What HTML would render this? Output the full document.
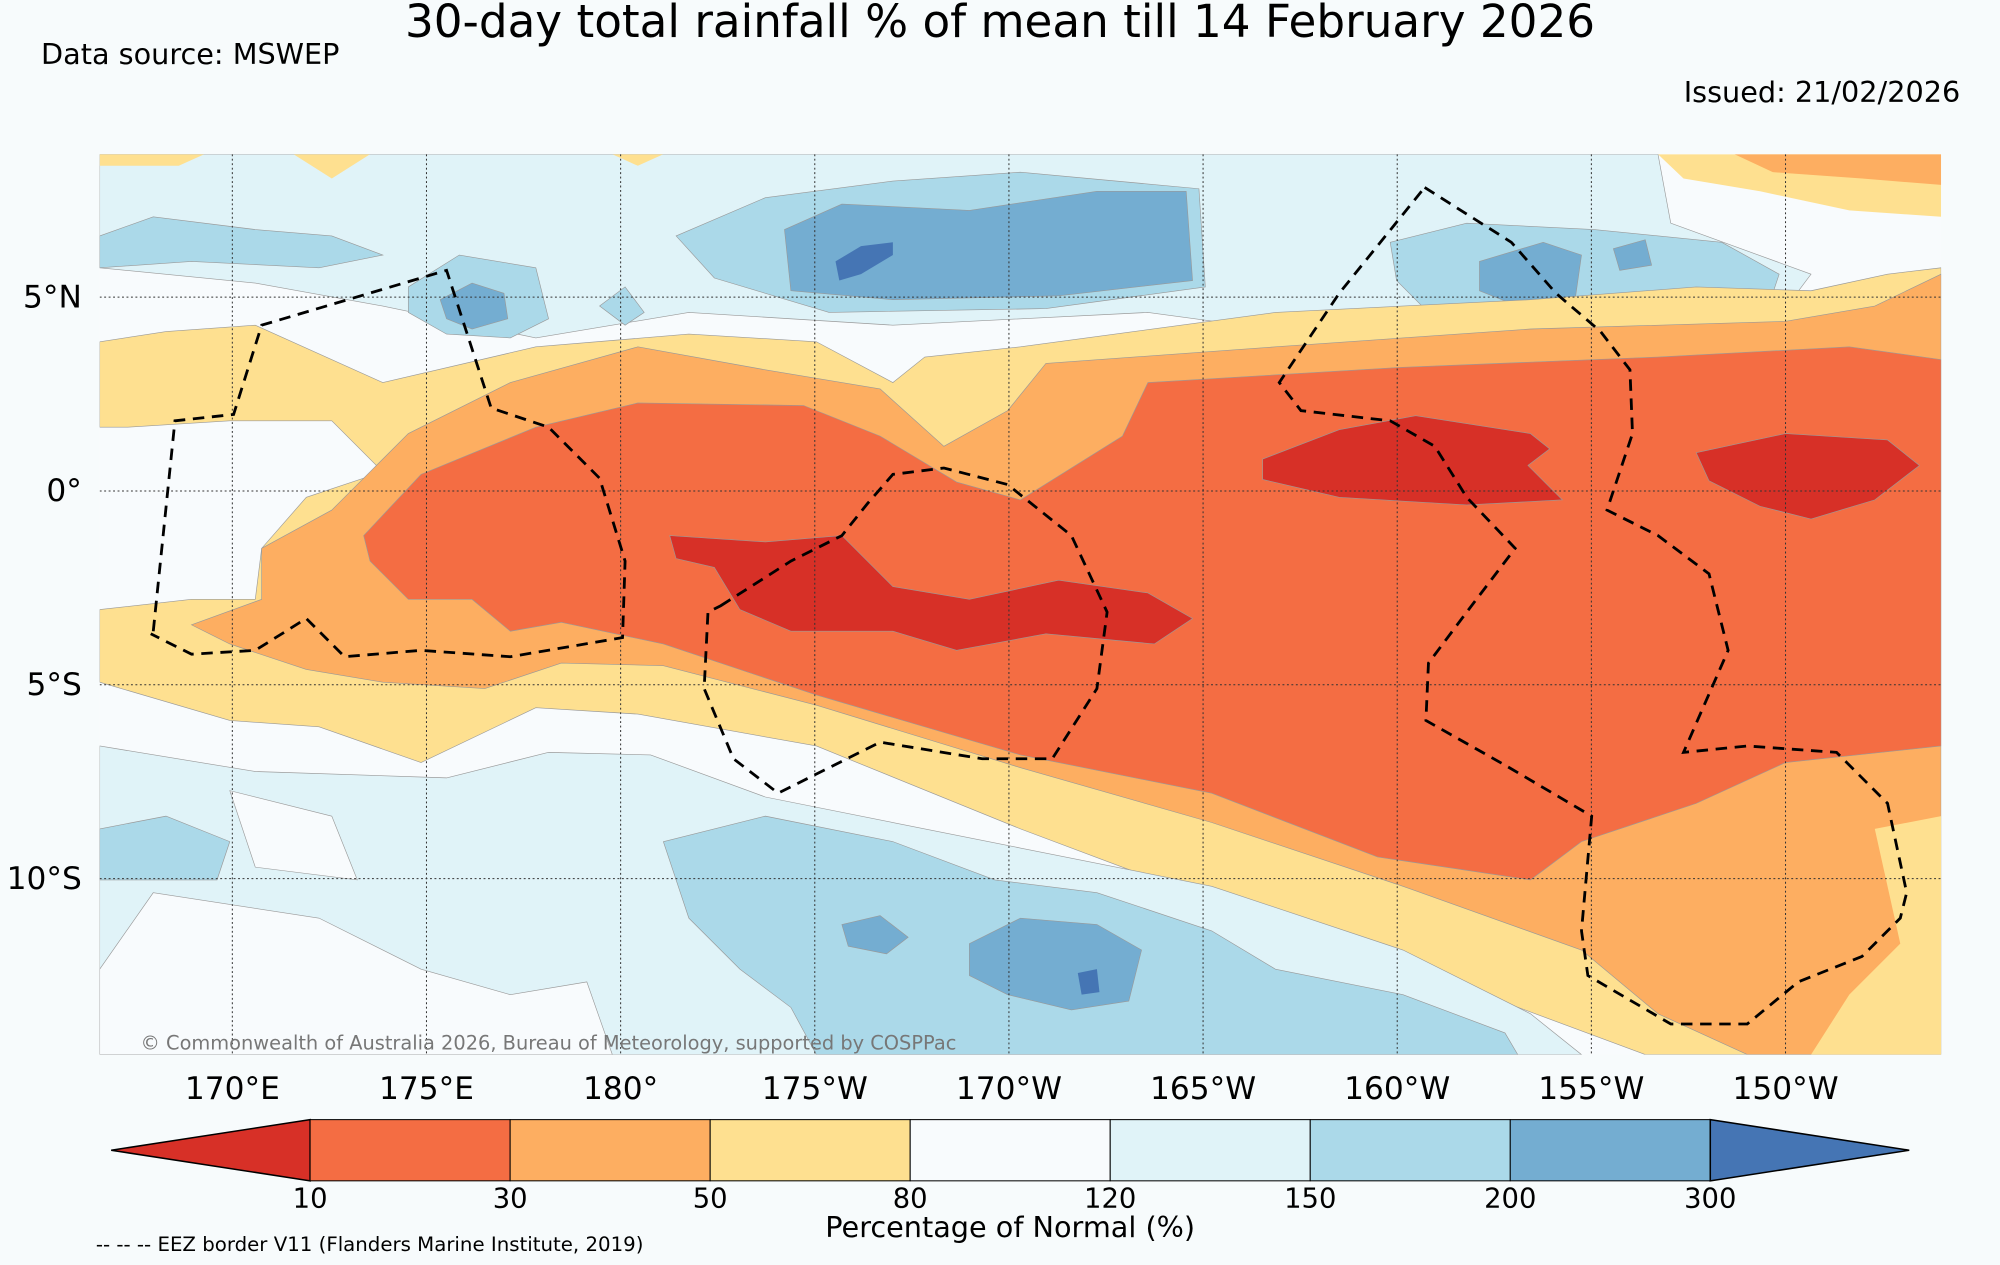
<!DOCTYPE html>
<html><head><meta charset="utf-8"><style>
html,body{margin:0;padding:0;background:#f7fbfc;}
svg{display:block;font-family:"DejaVu Sans","Liberation Sans",sans-serif;}
</style></head><body>
<svg id="chart" width="2000" height="1265" viewBox="0 0 1568 992" xmlns="http://www.w3.org/2000/svg">
<rect x="0" y="0" width="1568" height="992" fill="#f7fbfc"/>
<text x="784" y="29" font-size="35.5" text-anchor="middle">30-day total rainfall % of mean till 14 February 2026</text>
<text x="32" y="50" font-size="22.5">Data source: MSWEP</text>
<text x="1537" y="80" font-size="22.5" text-anchor="end">Issued: 21/02/2026</text>
<defs><clipPath id="mapclip"><rect x="78" y="121" width="1444" height="706"/></clipPath></defs>
<g id="map" clip-path="url(#mapclip)">
<rect x="78" y="121" width="1444" height="706" fill="#f8fbfd"/>
<path fill="#e0f3f8" stroke="#999" stroke-width="0.5" d="M78,121 L1300,121 L1310,175 L1420,215 L1390,255 L1250,270 L1100,272 L900,245 L700,255 L540,245 L420,265 L300,240 L200,222 L78,210 Z"/>
<path fill="#fee090" d="M78,121 L160,121 L140,130 L78,130 Z M230,121 L290,121 L260,140 Z M480,121 L520,121 L500,130 Z"/>
<path fill="#abd9e9" stroke="#999" stroke-width="0.5" d="M530,185 L600,155 L700,142 L800,135 L940,148 L945,225 L820,242 L650,245 L560,218 Z"/>
<path fill="#abd9e9" stroke="#999" stroke-width="0.5" d="M1090,190 L1150,175 L1250,180 L1350,190 L1395,215 L1380,260 L1250,262 L1120,245 L1095,220 Z"/>
<path fill="#abd9e9" stroke="#999" stroke-width="0.5" d="M78,185 L120,170 L200,180 L260,185 L300,200 L250,210 L150,205 L78,210 Z M320,225 L360,200 L420,210 L430,250 L400,265 L350,262 L320,245 Z M470,240 L490,225 L505,245 L490,255 Z"/>
<path fill="#74add1" stroke="#999" stroke-width="0.5" d="M615,180 L660,160 L760,165 L860,150 L930,150 L935,220 L830,232 L700,235 L620,228 Z"/>
<path fill="#74add1" stroke="#999" stroke-width="0.5" d="M1160,205 L1210,190 L1240,200 L1235,235 L1190,240 L1160,228 Z M1265,195 L1290,188 L1295,208 L1270,212 Z M345,235 L370,222 L395,230 L398,250 L370,258 L350,250 Z"/>
<path fill="#4575b4" d="M655,205 L675,193 L700,190 L700,200 L675,215 L658,220 Z"/>
<path fill="#fee090" d="M1300,121 L1522,121 L1522,170 L1450,165 L1380,150 L1320,140 Z"/>
<path fill="#fdae61" d="M1360,121 L1522,121 L1522,145 L1460,140 L1390,135 Z"/>
<path fill="#fee090" stroke="#999" stroke-width="0.5" d="M78,268 L130,260 L200,255 L300,300 L420,272 L540,262 L640,268 L700,300 L725,280 L800,272 L1000,245 L1200,235 L1330,225 L1420,228 L1480,215 L1522,210 L1522,827 L1290,827 L1150,775 L1000,725 L800,650 L640,585 L500,560 L420,555 L330,598 L250,570 L180,565 L78,535 L78,478 L150,470 L200,470 L205,430 L240,390 L300,370 L260,330 L180,330 L100,335 L78,335 Z"/>
<path fill="#fdae61" stroke="#999" stroke-width="0.5" d="M205,430 L260,400 L290,370 L320,340 L400,300 L500,272 L600,290 L690,305 L740,350 L790,322 L820,285 L1000,272 L1200,258 L1400,252 L1470,240 L1522,215 L1522,827 L1370,827 L1300,795 L1240,745 L1100,695 L950,645 L800,602 L640,553 L520,522 L440,520 L380,540 L300,535 L240,525 L180,505 L150,490 L205,470 Z"/>
<path fill="#f46d43" stroke="#999" stroke-width="0.5" d="M285,420 L330,372 L420,335 L500,316 L630,318 L690,342 L750,378 L800,392 L880,342 L900,300 L1100,288 L1300,280 L1450,272 L1522,282 L1522,585 L1400,598 L1330,630 L1240,660 L1200,690 L1080,672 L950,622 L800,592 L640,545 L520,505 L440,488 L400,495 L370,470 L320,470 L290,440 Z"/>
<path fill="#d73027" stroke="#999" stroke-width="0.5" d="M525,420 L600,425 L660,420 L700,460 L760,470 L830,455 L900,465 L935,485 L905,505 L820,497 L750,510 L700,495 L620,495 L580,478 L560,445 L530,438 Z"/>
<path fill="#d73027" stroke="#999" stroke-width="0.5" d="M990,360 L1050,337 L1110,326 L1200,340 L1215,352 L1198,365 L1225,392 L1150,396 L1050,390 L990,376 Z"/>
<path fill="#d73027" stroke="#999" stroke-width="0.5" d="M1330,355 L1400,340 L1480,345 L1505,365 L1470,392 L1420,407 L1380,397 L1340,377 Z"/>
<path fill="#e0f3f8" stroke="#999" stroke-width="0.5" d="M78,585 L200,605 L350,610 L430,590 L510,592 L600,625 L700,645 L800,665 L950,695 L1100,745 L1200,795 L1240,827 L78,827 Z"/>
<path fill="#f8fbfd" stroke="#999" stroke-width="0.5" d="M120,700 L250,720 L330,760 L400,780 L460,770 L480,827 L78,827 L78,760 Z M180,620 L260,640 L280,690 L200,680 Z"/>
<path fill="#abd9e9" stroke="#999" stroke-width="0.5" d="M520,660 L600,640 L700,660 L780,690 L860,700 L950,730 L1000,760 L1100,780 L1180,810 L1190,827 L640,827 L620,790 L580,760 L540,720 Z M78,650 L130,640 L180,660 L170,690 L100,690 L78,690 Z"/>
<path fill="#74add1" stroke="#999" stroke-width="0.5" d="M760,740 L800,720 L860,725 L895,745 L885,785 L840,792 L790,780 L760,765 Z M660,725 L690,718 L712,735 L695,748 L665,742 Z"/>
<path fill="#4575b4" d="M845,763 L860,760 L862,778 L848,780 Z"/>
<path fill="#fee090" d="M1470,650 L1522,640 L1522,827 L1420,827 L1450,780 L1490,740 Z"/>
<g id="grid"></g>
<g id="eez" fill="none" stroke="#000" stroke-width="2.2" stroke-dasharray="9,6">
<path d="M120,495 L137,330 L183,325 L205,255 L350,212 L385,320 L430,335 L470,375 L490,440 L488,500 L400,515 L330,510 L270,515 L240,485 L200,510 L150,513 L118,497"/>
<path d="M565,475 L620,440 L660,420 L680,395 L700,372 L740,367 L790,380 L840,420 L868,480 L860,540 L825,595 L770,595 L690,582 L610,622 L575,595 L552,540 L555,480 Z"/>
<path d="M1117,147 L1185,190 L1220,230 L1255,260 L1278,290 L1280,340 L1260,400 L1300,420 L1340,450 L1355,510 L1320,590 L1370,585 L1440,590 L1480,630 L1495,700 L1490,720 L1460,750 L1410,770 L1370,803 L1310,803 L1245,765 L1240,730 L1248,640 L1180,600 L1118,565 L1120,520 L1150,480 L1188,430 L1150,390 L1125,350 L1090,330 L1020,322 L1003,300 L1050,230 L1117,147"/>
</g>
<text x="110" y="823" font-size="15.2" fill="#777">© Commonwealth of Australia 2026, Bureau of Meteorology, supported by COSPPac</text>
</g>
<g id="ticks"></g>
<g id="colorbar"></g>
<text x="792" y="970" font-size="22.5" text-anchor="middle">Percentage of Normal (%)</text>
<text x="75" y="981" font-size="15.5">-- -- -- EEZ border V11 (Flanders Marine Institute, 2019)</text>
</svg>
<script>
const lonTicks = [170, 175, 180, 185, 190, 195, 200, 205, 210];
const lonLabels = ["170°E","175°E","180°","175°W","170°W","165°W","160°W","155°W","150°W"];
const latTicks = [5, 0, -5, -10];
const latLabels = ["5°N","0°","5°S","10°S"];
const levels = ["10","30","50","80","120","150","200","300"];
const binColors = ["#f46d43","#fdae61","#fee090","#f8fbfd","#e0f3f8","#abd9e9","#74add1"];
const underColor = "#d73027";
const overColor = "#4575b4";

const NS = "http://www.w3.org/2000/svg";
const xLon = lon => 182 + (lon - 170) * 30.45;
const yLat = lat => 385 - lat * 30.4;
function mk(tag, attrs, parent){ const e=document.createElementNS(NS,tag); for(const k in attrs) e.setAttribute(k,attrs[k]); parent.appendChild(e); return e; }

const grid = document.getElementById('grid');
const ticks = document.getElementById('ticks');
lonTicks.forEach((lon,i)=>{
  const l = mk('line',{x1:xLon(lon),x2:xLon(lon),y1:121,y2:827,stroke:'#333','stroke-width':0.8,'stroke-dasharray':'1.5,2'},grid);
  
  
  const t = mk('text',{x:xLon(lon),y:862,'font-size':24.5,'text-anchor':'middle'},ticks);
  t.textContent = lonLabels[i];
  
  
});
latTicks.forEach((lat,i)=>{
  const l = mk('line',{x1:78,x2:1522,y1:yLat(lat),y2:yLat(lat),stroke:'#333','stroke-width':0.8,'stroke-dasharray':'1.5,2'},grid);
  
  
  const t = mk('text',{x:64,y:yLat(lat)+8,'font-size':24.5,'text-anchor':'end'},ticks);
  t.textContent = latLabels[i];
  
  
});

const cb = document.getElementById('colorbar');
const cbX0 = 243, cbX1 = 1341, cbY0 = 878, cbY1 = 926, tipL = 87, tipR = 1497;
const segW = (cbX1 - cbX0) / binColors.length;
const under = mk('polygon',{points:`${cbX0},${cbY0} ${tipL},${(cbY0+cbY1)/2} ${cbX0},${cbY1}`,fill:underColor,stroke:'#000','stroke-width':1.2},cb);


binColors.forEach((c,i)=>{
  const r = mk('rect',{x:cbX0+i*segW,y:cbY0,width:segW,height:cbY1-cbY0,fill:c,stroke:'#000','stroke-width':0.8},cb);
  
  
});
const over = mk('polygon',{points:`${cbX1},${cbY0} ${tipR},${(cbY0+cbY1)/2} ${cbX1},${cbY1}`,fill:overColor,stroke:'#000','stroke-width':1.2},cb);


levels.forEach((lv,i)=>{
  const t = mk('text',{x:cbX0+i*segW,y:947,'font-size':21.5,'text-anchor':'middle'},cb);
  t.textContent = lv;
  
  
});
</script>
</body></html>
